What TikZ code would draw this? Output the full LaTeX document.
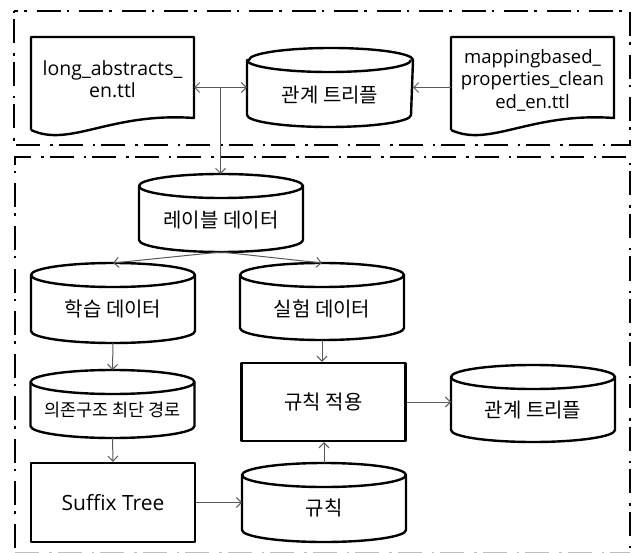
\documentclass[tikz,border=0pt]{standalone}
\usepackage{fontspec}
\setmainfont{Noto Sans CJK KR}
\newfontfamily\latinf{Open Sans}
\usetikzlibrary{arrows.meta,calc}
\tikzset{
  grp/.style={line width=2.6pt, dash pattern=on 2.5pt off 6pt on 24pt off 10pt},
  shp/.style={line width=2.4pt, line join=round},
  hold/.style={inner sep=0pt, outer sep=0pt, minimum width=164pt},
  rbox/.style={draw, shp, inner sep=0pt, minimum width=164pt, minimum height=79pt},
  lbl/.style={font=\fontsize{20}{22.5}\selectfont, align=center, inner sep=0pt},
  llbl/.style={font=\latinf\fontsize{19}{22.5}\selectfont, align=center, inner sep=0pt},
  arr/.style={draw=black!65, line width=1pt, -{Straight Barb[length=5pt,width=10pt]}},
  darr/.style={draw=black!65, line width=1pt, {Straight Barb[length=5pt,width=10pt]}-{Straight Barb[length=5pt,width=10pt]}},
}
\newcommand\cylshape[1]{%
  \draw[shp] ($(#1.north west)+(0,12)$) -- ($(#1.south west)+(0,-12)$)
    arc[start angle=180, end angle=360, x radius=82pt, y radius=12pt]
    -- ($(#1.north east)+(0,12)$)
    arc[start angle=0, end angle=180, x radius=82pt, y radius=12pt] -- cycle;
  \draw[shp] ($(#1.north west)+(0,12)$)
    arc[start angle=180, end angle=360, x radius=82pt, y radius=12pt];
}
\newcommand\docshape[1]{%
  \draw[shp] ($(#1.south west)+(0,-7)$) -- (#1.north west) -- (#1.north east)
    -- ($(#1.south east)+(0,-19)$)
    .. controls ($(#1.south east)+(-84,-25)$) and ($(#1.south west)+(39,11)$) .. ($(#1.south west)+(0,-7)$);
}
\begin{document}
\begin{tikzpicture}[x=1pt,y=-1pt]
\useasboundingbox (0,0) rectangle (642,553);
% group frames
\draw[grp] (14,11) rectangle (630,145);
\draw[grp] (15,556) -- (15,157) -- (630,157) -- (630,556);
\draw[black!25, line width=0.8pt, dash pattern=on 24pt off 10pt on 2.5pt off 6pt] (15,552) -- (630,552);

% top row
\node[hold, minimum width=163pt, minimum height=100pt] (la) at (112.5,87) {};
\docshape{la}
\node[llbl, font=\latinf\fontsize{19.5}{22.5}\selectfont] (laT) at (112.5,79) {long\_abstracts\_\\en.ttl};

\node[hold, minimum width=163pt, minimum height=100pt] (map) at (532.5,87) {};
\docshape{map}
\node[llbl, font=\latinf\fontsize{18.5}{22.5}\selectfont] (mapT) at (532.5,80) {mappingbased\_\\properties\_clean\\ed\_en.ttl};

\node[hold, minimum width=166pt, minimum height=79pt] (rel1) at (330,87.5) {};
\cylshape{rel1}
\node[lbl] (rel1T) at (330,95) {관계 트리플};

% lower area
\node[hold, minimum height=78pt] (lab) at (221,213) {};
\cylshape{lab}
\node[lbl] (labT) at (221,220) {레이블 데이터};

\node[hold, minimum height=80pt] (learn) at (113,303) {};
\cylshape{learn}
\node[lbl] (learnT) at (113,309) {학습 데이터};

\node[hold, minimum height=77pt] (test) at (322,301.5) {};
\cylshape{test}
\node[lbl] (testT) at (322,309) {실험 데이터};

\node[hold, minimum height=68pt] (dep) at (112.5,404) {};
\cylshape{dep}
\node[lbl, font=\fontsize{17.5}{20}\selectfont] (depT) at (112.5,410) {의존구조 최단 경로};

\node[rbox, minimum height=78pt, lbl] (apply) at (323.5,402) {규칙 적용};

\node[hold, minimum height=77pt] (rel2) at (533,403.5) {};
\cylshape{rel2}
\node[lbl] (rel2T) at (533,410) {관계 트리플};

\node[rbox, llbl, font=\latinf\fontsize{21}{22.5}\selectfont] (suffix) at (113,502.5) {Suffix Tree};

\node[hold, minimum height=79pt] (rule) at (324,502.5) {};
\cylshape{rule}
\node[lbl] (ruleT) at (324,508) {규칙};

% connectors
\draw[darr] (la.east |- rel1.west) -- (rel1.west);
\coordinate (j) at ($(la.east |- rel1.west)!0.5!(rel1.west)$);
\draw[arr] (map.west |- rel1.east) -- (rel1.east);
\draw[arr] (j) -- (j |- lab.north);
\draw[arr] (lab.south) -- (learn.north);
\draw[arr] (lab.south) -- (test.north);
\draw[arr] (learn.south) -- (dep.north);
\draw[arr] (test.south) -- (test.south |- apply.north);
\draw[arr] (dep.south) -- (suffix.north);
\draw[arr] (suffix.east) -- (suffix.east -| rule.west);
\draw[arr] (rule.north) -- (rule.north |- apply.south);
\draw[arr] (apply.east) -- (apply.east -| rel2.west);
\end{tikzpicture}
\end{document}
